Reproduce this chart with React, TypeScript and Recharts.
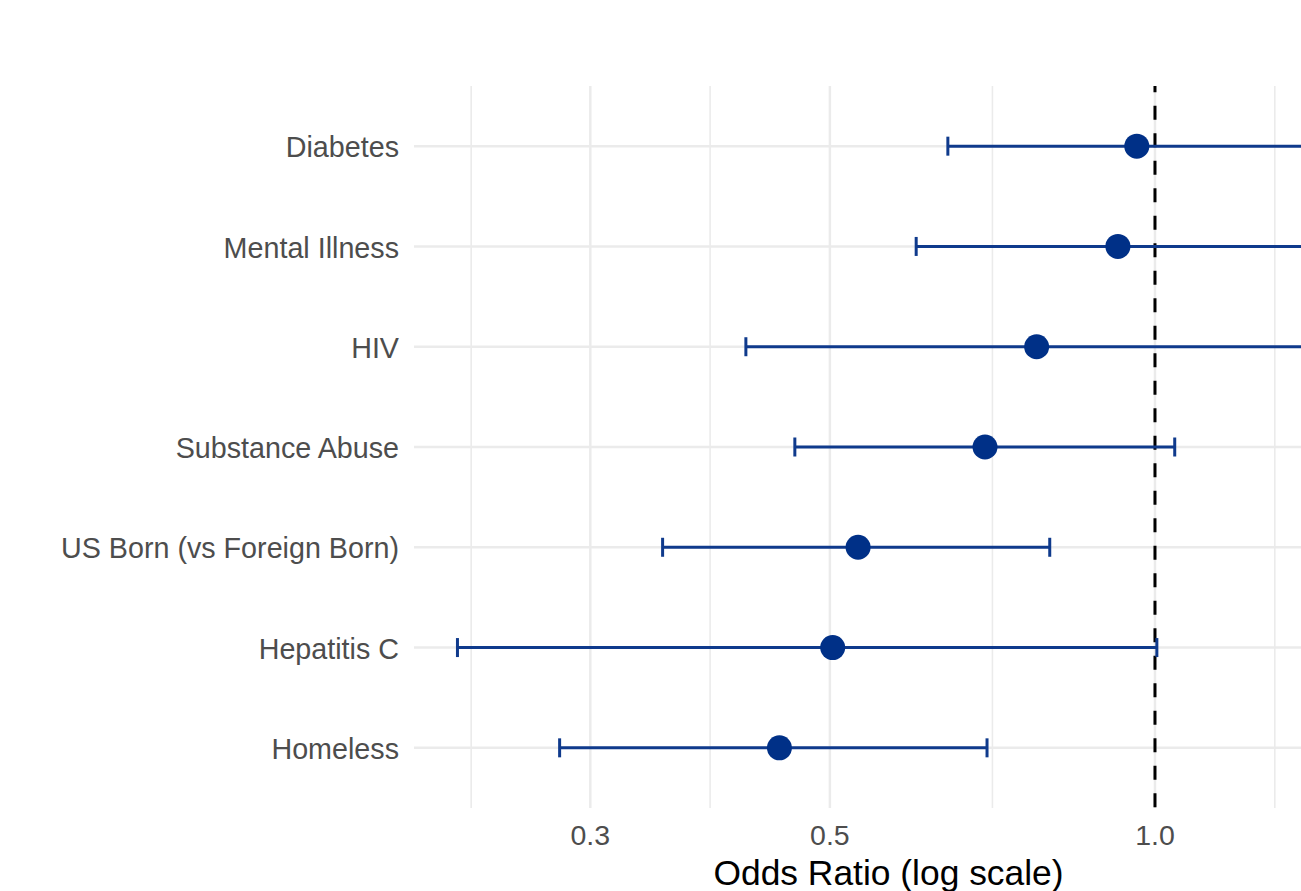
import React from 'react';
import {
  ScatterChart,
  Scatter,
  XAxis,
  YAxis,
  CartesianGrid,
  ReferenceLine,
  ErrorBar,
} from 'recharts';

// top to bottom
const categories = [
  'Diabetes',
  'Mental Illness',
  'HIV',
  'Substance Abuse',
  'US Born (vs Foreign Born)',
  'Hepatitis C',
  'Homeless',
];
const oddsRatio = [0.962, 0.924, 0.777, 0.696, 0.531, 0.503, 0.449];
const lowerCI = [0.643, 0.601, 0.418, 0.464, 0.35, 0.226, 0.281];
// the first three run off the right edge of the picture, so these are guesses
const upperCI = [1.44, 1.42, 1.445, 1.043, 0.799, 1.004, 0.699];

const majorTicks = [0.3, 0.5, 1.0];
const minorBreaks = [0.2327, 0.3873, 0.7071, 1.291];
const xDomain = [0.206, 1.585];

const data = categories.map((name, i) => ({
  name,
  pos: categories.length - i,
  or: oddsRatio[i],
  err: [oddsRatio[i] - lowerCI[i], upperCI[i] - oddsRatio[i]],
}));

const font = '"Liberation Sans", Arial, sans-serif';
const pointColor = '#003087';
const barColor = '#0f3a8c';
const gridColor = '#ebebeb';

const Dot = (props: any) => {
  const { cx, cy } = props;
  if (cx == null || cy == null) return null;
  return <circle cx={cx} cy={cy} r={12.5} fill={pointColor} />;
};

export default function App() {
  return (
    <div
      style={{
        position: 'absolute',
        left: 0,
        top: 0,
        width: 1301,
        height: 891,
        overflow: 'hidden',
        background: '#fff',
      }}
    >
      <ScatterChart
        width={1400}
        height={891}
        margin={{ top: 86, right: 29, bottom: 0, left: 0 }}
      >
        <CartesianGrid stroke={gridColor} strokeWidth={2.5} syncWithTicks />
        {minorBreaks.map((v) => (
          <ReferenceLine key={v} x={v} stroke={gridColor} strokeWidth={1.6} />
        ))}
        <XAxis
          type="number"
          dataKey="or"
          scale="log"
          domain={xDomain}
          allowDataOverflow
          ticks={majorTicks}
          interval={0}
          tickFormatter={(v: number) => v.toFixed(1)}
          axisLine={false}
          tickLine={false}
          tickSize={0}
          tickMargin={17}
          height={83}
          tick={{ fontSize: 28.5, fill: '#4d4d4d', fontFamily: font }}
          label={{
            value: 'Odds Ratio (log scale)',
            position: 'insideBottom',
            offset: 6,
            dx: -4,
            style: { fontSize: 35.4, fill: '#000', fontFamily: font },
          }}
        />
        <YAxis
          type="number"
          dataKey="pos"
          domain={[0.4, 7.6]}
          ticks={[1, 2, 3, 4, 5, 6, 7]}
          interval={0}
          tickFormatter={(v: number) => categories[categories.length - v]}
          axisLine={false}
          tickLine={false}
          tickSize={0}
          tickMargin={15}
          width={414}
          tick={{ fontSize: 28.7, fill: '#4d4d4d', fontFamily: font, dy: 1 }}
        />
        <ReferenceLine
          x={1}
          stroke="#000"
          strokeWidth={3}
          strokeDasharray="14 13.5"
          strokeDashoffset={26.8}
        />
        <Scatter data={data} shape={Dot} isAnimationActive={false}>
          <ErrorBar
            dataKey="err"
            direction="x"
            width={9.5}
            stroke={barColor}
            strokeWidth={3}
            isAnimationActive={false}
          />
        </Scatter>
      </ScatterChart>
    </div>
  );
}
